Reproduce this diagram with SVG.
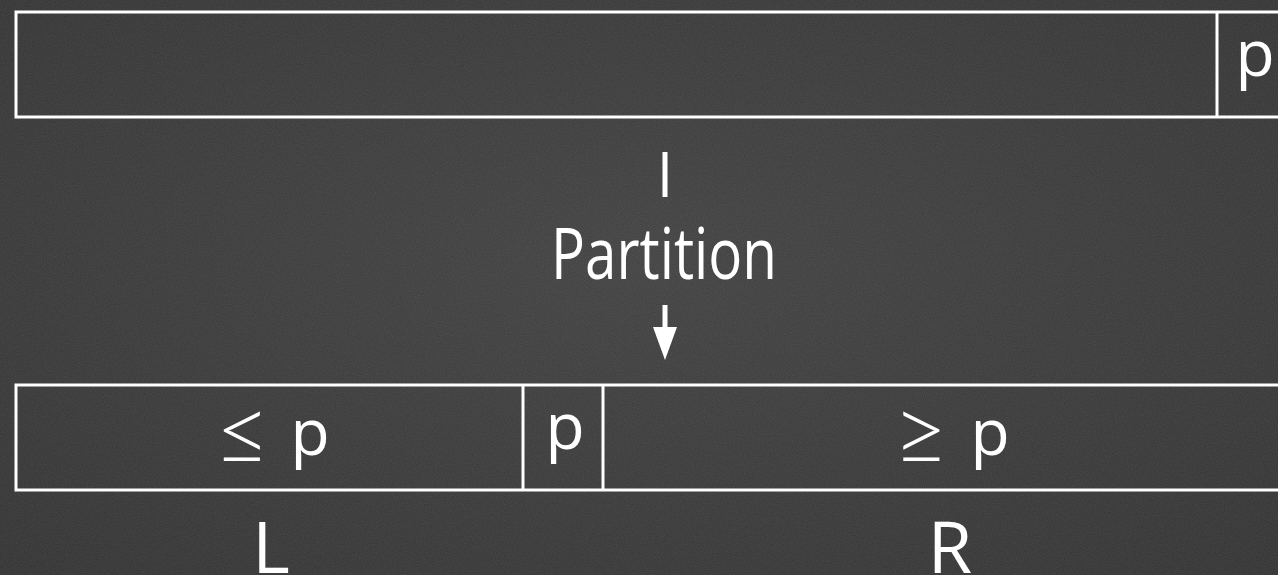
<svg xmlns="http://www.w3.org/2000/svg" width="1278" height="575" viewBox="0 0 1278 575">
<defs>
<filter id="chalk" x="0" y="0" width="100%" height="100%">
<feTurbulence type="fractalNoise" baseFrequency="0.9" numOctaves="2" seed="3" result="n"/>
<feColorMatrix type="matrix" values="0 0 0 0 1  0 0 0 0 1  0 0 0 0 1  0 0 0 0.10 0" />
</filter>
<radialGradient id="bg" cx="50%" cy="45%" r="75%">
<stop offset="0" stop-color="#404040"/>
<stop offset="1" stop-color="#313131"/>
</radialGradient>
</defs>
<style>
.box{fill:none;stroke:#ffffff;stroke-width:3}
.lbl{fill:#ffffff;font-family:"Open Sans","Liberation Sans",sans-serif;font-size:64px;text-anchor:middle}
.sym{fill:#ffffff;font-family:"Lato","Open Sans",sans-serif;font-weight:300;font-size:96px;text-anchor:middle}
.big{fill:#ffffff;font-family:"Open Sans","Liberation Sans",sans-serif;font-size:72px;text-anchor:middle}
.conn{stroke:#ffffff;stroke-width:5;fill:none}
.head{fill:#ffffff}
</style>
<rect x="0" y="0" width="1278" height="575" fill="url(#bg)"/>
<rect x="0" y="0" width="1278" height="575" filter="url(#chalk)"/>
<g id="input-array">
<rect class="box" x="16" y="12" width="1275" height="105"/>
<line class="box" x1="1217" y1="12" x2="1217" y2="117"/>
<text class="lbl" x="1255" y="76">p</text>
</g>
<g id="connectors">
<line class="conn" x1="665" y1="152" x2="665" y2="197"/>
<line class="conn" x1="665" y1="305" x2="665" y2="330"/>
<polygon class="head" points="653,327 677,327 665,360"/>
</g>
<g id="partition-label">
<text class="big" x="664" y="279" textLength="226" lengthAdjust="spacingAndGlyphs">Partition</text>
</g>
<g id="output-array">
<rect class="box" x="16" y="385" width="1275" height="105"/>
<line class="box" x1="523" y1="385" x2="523" y2="490"/>
<line class="box" x1="603" y1="385" x2="603" y2="490"/>
</g>
<g id="left-part">
<text class="sym" x="242" y="465">≤</text>
<text class="lbl" x="310" y="455">p</text>
</g>
<g id="pivot">
<text class="lbl" x="565" y="449">p</text>
</g>
<g id="right-part">
<text class="sym" x="921" y="465">≥</text>
<text class="lbl" x="990" y="455">p</text>
</g>
<g id="L">
<text class="big" x="271" y="573">L</text>
</g>
<g id="R">
<text class="big" x="950" y="573">R</text>
</g>
</svg>
